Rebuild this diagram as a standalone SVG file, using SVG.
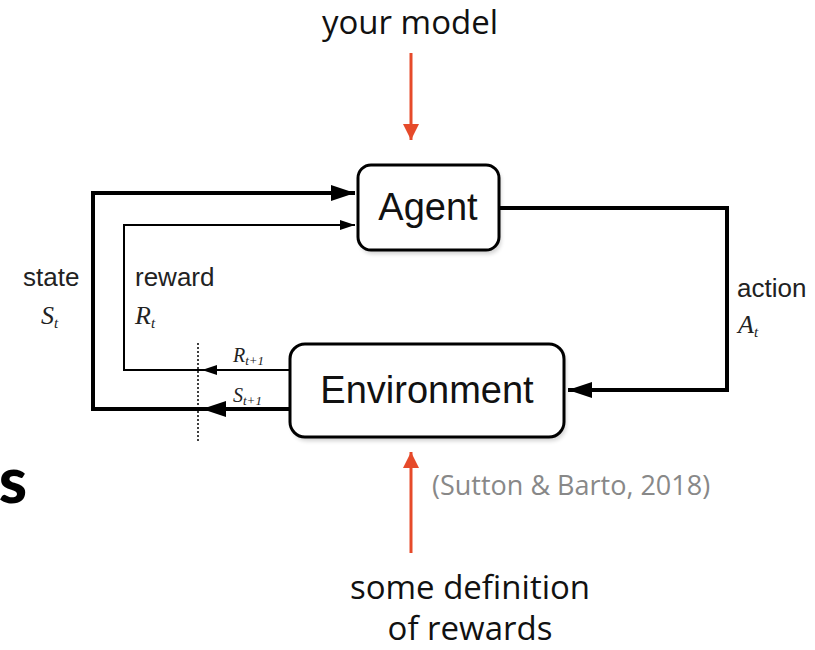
<svg xmlns="http://www.w3.org/2000/svg" width="815" height="650" viewBox="0 0 815 650">
<style>
.box{fill:#fff;stroke:#000;stroke-width:3}
.shadow{fill:#000;opacity:0.18;filter:url(#blur)}
.node{font-family:"Liberation Sans",Arial,sans-serif;font-size:38px;fill:#111}
.lbl{font-family:"Liberation Sans",Arial,sans-serif;font-size:26px;fill:#222}
.math{font-family:"Liberation Serif","Times New Roman",serif;font-style:italic;fill:#222}
.thick{fill:none;stroke:#000;stroke-width:4}
.thin{fill:none;stroke:#000;stroke-width:2}
.red{fill:none;stroke:#e64a2a;stroke-width:3}
.note{font-family:"Open Sans","Noto Sans",sans-serif;font-size:33px;fill:#111;text-anchor:middle}
.cite{font-family:"Open Sans","Noto Sans",sans-serif;font-size:27px;fill:#888}
</style>
<defs>
<filter id="blur" x="-10%" y="-10%" width="120%" height="130%"><feGaussianBlur stdDeviation="2"/></filter>
<marker id="bigArrow" markerUnits="userSpaceOnUse" markerWidth="24" markerHeight="16" refX="24" refY="8" orient="auto"><path d="M0,0 L24,8 L0,16 z" fill="#000"/></marker>
<marker id="smallArrow" markerUnits="userSpaceOnUse" markerWidth="15" markerHeight="10" refX="15" refY="5" orient="auto"><path d="M0,0 L15,5 L0,10 z" fill="#000"/></marker>
<marker id="redArrow" markerUnits="userSpaceOnUse" markerWidth="16" markerHeight="16" refX="16" refY="8" orient="auto"><path d="M0,0 L16,8 L0,16 z" fill="#e64a2a"/></marker>
</defs>
<rect width="815" height="650" fill="#fff"/>

<text x="27" y="503" text-anchor="end" style="font-family:Lato,'Open Sans',sans-serif;font-weight:900;font-size:64px;fill:#000">s</text>

<g id="connectors">
<path class="thick" d="M290,409 L202,409" marker-end="url(#bigArrow)"/>
<path class="thick" d="M202,409 L93,409 L93,193 L355,193" marker-end="url(#bigArrow)"/>
<path class="thin" d="M290,370 L202,370" marker-end="url(#smallArrow)"/>
<path class="thin" d="M202,370 L124,370 L124,225 L355,225" marker-end="url(#smallArrow)"/>
<path class="thick" d="M500,208 L727,208 L727,390 L568,390" marker-end="url(#bigArrow)"/>
<line x1="198" y1="343" x2="198" y2="442" stroke="#000" stroke-width="1.5" stroke-dasharray="2,2"/>
<path class="red" d="M411,53 L411,140" marker-end="url(#redArrow)"/>
<path class="red" d="M411,553 L411,452" marker-end="url(#redArrow)"/>
</g>

<g id="agent">
<rect class="shadow" x="360" y="168" width="141" height="86" rx="13"/>
<rect class="box" x="358" y="165" width="141" height="85" rx="13"/>
<text class="node" x="428" y="220" text-anchor="middle">Agent</text>
</g>

<g id="environment">
<rect class="shadow" x="292" y="347" width="274" height="94" rx="15"/>
<rect class="box" x="290" y="344" width="274" height="93" rx="15"/>
<text class="node" x="427" y="403" text-anchor="middle">Environment</text>
</g>

<g id="labels">
<text class="lbl" x="23" y="286">state</text>
<text class="math" x="41" y="324" font-size="26">S<tspan font-size="15" dy="4">t</tspan></text>
<text class="lbl" x="135" y="286">reward</text>
<text class="math" x="135" y="324" font-size="26">R<tspan font-size="15" dy="4">t</tspan></text>
<text class="math" x="233" y="362" font-size="20">R<tspan font-size="13" dy="3">t+1</tspan></text>
<text class="math" x="233" y="402" font-size="20">S<tspan font-size="13" dy="3">t+1</tspan></text>
<text class="lbl" x="737" y="297">action</text>
<text class="math" x="738" y="333" font-size="26">A<tspan font-size="15" dy="4">t</tspan></text>
</g>

<g id="notes">
<text class="note" x="410" y="34">your model</text>
<text class="note" x="470" y="599">some definition</text>
<text class="note" x="470" y="640">of rewards</text>
<text class="cite" x="432" y="495">(Sutton &amp; Barto, 2018)</text>
</g>
</svg>
